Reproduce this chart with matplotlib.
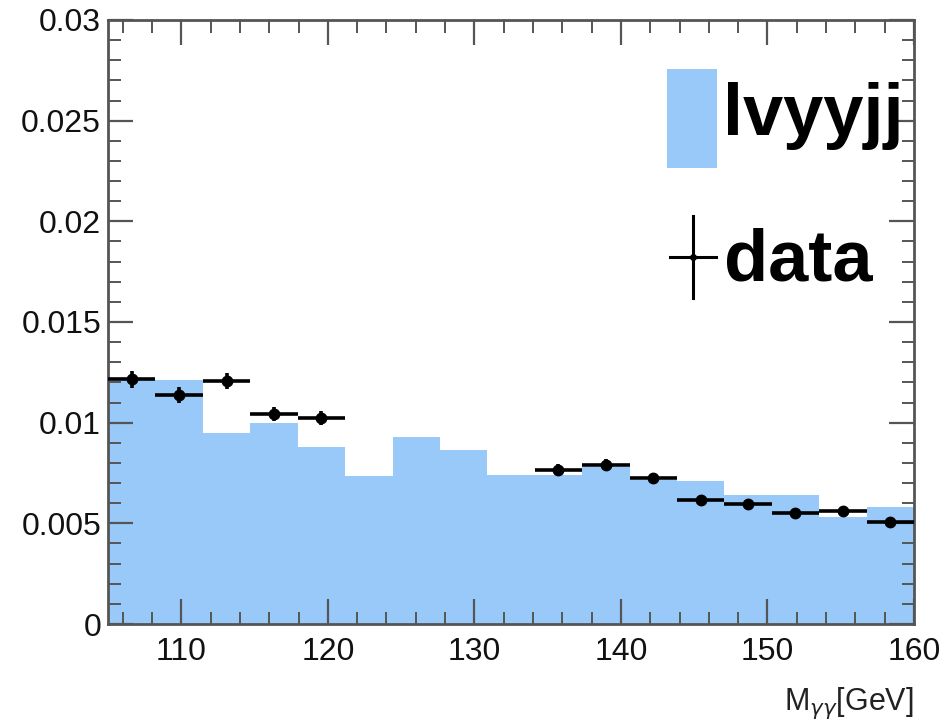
import matplotlib
matplotlib.use("Agg")
import matplotlib.pyplot as plt
from matplotlib.patches import Rectangle
from matplotlib.lines import Line2D
from matplotlib.ticker import MultipleLocator, FixedLocator
import numpy as np

# 17 equal bins between 105 and 160 GeV
bin_edges = np.linspace(105.0, 160.0, 18)

# lvyyjj expectation per bin (normalised)
mc_values = [0.01222, 0.01213, 0.00950, 0.01000, 0.00877, 0.00733, 0.00927,
             0.00863, 0.00738, 0.00738, 0.00780, 0.00713, 0.00710, 0.00643,
             0.00643, 0.00533, 0.00580]

# data per bin; signal region bins 5-8 are blinded (None)
data_values = [0.01215, 0.01138, 0.01205, 0.01043, 0.01022, None, None, None,
               None, 0.00767, 0.00792, 0.00725, 0.00618, 0.00597, 0.00552,
               0.00563, 0.00508]
data_errors = [0.00042, 0.00040, 0.00040, 0.00035, 0.00035, None, None, None,
               None, 0.00028, 0.00028, 0.00027, 0.00025, 0.00025, 0.00024,
               0.00024, 0.00023]

y_ticks = [0, 0.005, 0.01, 0.015, 0.02, 0.025, 0.03]
y_tick_labels = ["0", "0.005", "0.01", "0.015", "0.02", "0.025", "0.03"]
x_ticks = [110, 120, 130, 140, 150, 160]

fill_color = "#99c9f9"
frame_color = "#555555"

plt.rcParams["font.family"] = ["Liberation Sans", "DejaVu Sans"]

fig = plt.figure(figsize=(9.46, 7.24), dpi=100)
ax = fig.add_axes([0.1142, 0.1381, 0.852, 0.8343])

# filled MC histogram
ax.stairs(mc_values, bin_edges, fill=True, color=fill_color, linewidth=0)

# data points with bin-width horizontal bars
centers = 0.5 * (bin_edges[:-1] + bin_edges[1:])
half_width = 0.5 * (bin_edges[1] - bin_edges[0])
mask = np.array([v is not None for v in data_values])
dx = centers[mask]
dy = np.array([v for v in data_values if v is not None])
de = np.array([e for e in data_errors if e is not None])
ax.errorbar(dx, dy, xerr=half_width, yerr=de, fmt="o", color="black",
            markersize=7.5, elinewidth=2.6, capsize=0, zorder=3)

ax.set_xlim(105, 160)
ax.set_ylim(0, 0.03)

ax.xaxis.set_major_locator(FixedLocator(x_ticks))
ax.xaxis.set_minor_locator(MultipleLocator(2))
ax.yaxis.set_major_locator(FixedLocator(y_ticks))
ax.set_yticklabels(y_tick_labels)
ax.yaxis.set_minor_locator(MultipleLocator(0.001))

ax.tick_params(which="both", direction="in", top=True, right=True,
               color=frame_color, labelsize=23, labelcolor="#111111")
ax.tick_params(which="major", length=18, width=1.6)
ax.tick_params(which="minor", length=9, width=1.4)
ax.tick_params(axis="x", which="major", pad=9)
ax.tick_params(axis="y", which="major", pad=5)
for side in ax.spines.values():
    side.set_color(frame_color)
    side.set_linewidth(2.0)

# axis title at the lower right
fig.text(0.9662, 0.0193, r"M$_{\gamma\gamma}$[GeV]", ha="right", va="baseline",
         fontsize=22, color="#222222")

# legend drawn by hand
ax.add_patch(Rectangle((0.6935, 0.755), 0.0621, 0.164, transform=ax.transAxes,
                       facecolor=fill_color, edgecolor="none", clip_on=False))
ax.text(0.763, 0.8096, "lvyyjj", transform=ax.transAxes, fontsize=52,
        fontweight="bold", ha="left", va="baseline", color="black")
kx, ky = 0.7256, 0.6076
ax.add_line(Line2D([kx - 0.0285, kx + 0.0285], [ky, ky], transform=ax.transAxes,
                   color="black", linewidth=2.2))
ax.add_line(Line2D([kx, kx], [ky - 0.068, ky + 0.068], transform=ax.transAxes,
                   color="black", linewidth=2.2))
ax.plot([kx], [ky], "o", color="black", markersize=4, transform=ax.transAxes)
ax.text(0.764, 0.5695, "data", transform=ax.transAxes, fontsize=52,
        fontweight="bold", ha="left", va="baseline", color="black")

fig.savefig("out.png", dpi=100)
